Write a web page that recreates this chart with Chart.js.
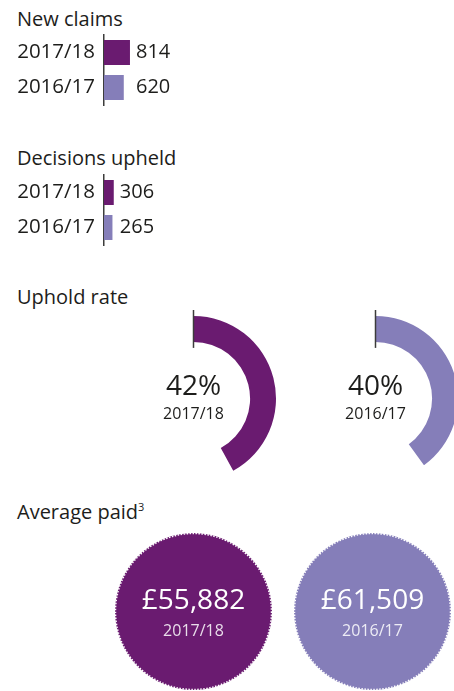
<!DOCTYPE html>
<html>
<head>
<meta charset="utf-8">
<script src="https://cdn.jsdelivr.net/npm/chart.js@4.4.1/dist/chart.umd.min.js"></script>
<style>
    html, body { margin: 0; padding: 0; background: #fff; }
    body { width: 454px; height: 691px; position: relative; overflow: hidden; font-family: 'Open Sans', sans-serif; color: #1d1d1b; }
    .section-title { position: absolute; left: 17px; font-size: 20px; line-height: 20px; white-space: nowrap; }
    .section-title sup { font-size: 11px; vertical-align: 8px; line-height: 0; }
    canvas { position: absolute; }
</style>
</head>
<body>
<div class="section-title" style="top:9px">New claims</div>
<div class="section-title" style="top:148px">Decisions upheld</div>
<div class="section-title" style="top:287px">Uphold rate</div>
<div class="section-title" style="top:502px">Average paid<sup>3</sup></div>

<canvas id="newClaimsChart" width="454" height="110" style="left:0;top:0"></canvas>
<canvas id="upheldChart" width="454" height="110" style="left:0;top:140px"></canvas>
<canvas id="rateChart1" width="185" height="185" style="left:101px;top:306px"></canvas>
<canvas id="rateChart2" width="185" height="185" style="left:283px;top:306px"></canvas>
<canvas id="paidChart1" width="173" height="173" style="left:107px;top:525px"></canvas>
<canvas id="paidChart2" width="173" height="173" style="left:286px;top:525px"></canvas>

<script>
// Dados do gráfico
const years = ['2017/18', '2016/17'];
const newClaims = [814, 620];
const decisionsUpheld = [306, 265];
const upholdRate = [42, 40];
const averagePaid = [55882, 61509];

const colors = ['#6a1b70', '#857eb9'];
const textColor = '#1d1d1b';
const scaleMax = 10000;

Chart.defaults.font.family = "'Open Sans', sans-serif";

// Rótulos de valor ao lado das barras
const valueLabelPlugin = {
    id: 'valueLabels',
    afterDatasetsDraw(chart) {
        const ctx = chart.ctx;
        const meta = chart.getDatasetMeta(0);
        const values = chart.data.datasets[0].data;
        const xPos = chart.scales.x.getPixelForValue(Math.max(...values)) + 6;
        ctx.save();
        ctx.font = "20px 'Open Sans'";
        ctx.fillStyle = textColor;
        ctx.textBaseline = 'middle';
        meta.data.forEach((bar, i) => ctx.fillText(values[i], xPos, bar.y));
        ctx.restore();
    }
};

// Texto central e marcador do anel
const rateCenterPlugin = {
    id: 'rateCenter',
    afterDatasetsDraw(chart) {
        const ctx = chart.ctx;
        const arc = chart.getDatasetMeta(0).data[0];
        const index = chart.options.plugins.rateCenter.index;
        ctx.save();
        ctx.strokeStyle = '#3c3c3b';
        ctx.lineWidth = 1.5;
        ctx.beginPath();
        ctx.moveTo(arc.x, arc.y - arc.outerRadius - 6);
        ctx.lineTo(arc.x, arc.y - arc.innerRadius + 6);
        ctx.stroke();

        ctx.fillStyle = textColor;
        ctx.textAlign = 'center';
        ctx.textBaseline = 'middle';
        ctx.font = "28px 'Open Sans'";
        ctx.fillText(upholdRate[index] + '%', arc.x, arc.y - 11);
        ctx.font = "16px 'Open Sans'";
        ctx.fillText(years[index], arc.x, arc.y + 16);
        ctx.restore();
    }
};

// Borda serrilhada e texto dos círculos
const paidCenterPlugin = {
    id: 'paidCenter',
    afterDatasetsDraw(chart) {
        const ctx = chart.ctx;
        const arc = chart.getDatasetMeta(0).data[0];
        const index = chart.options.plugins.paidCenter.index;
        ctx.save();
        ctx.strokeStyle = '#ffffff';
        ctx.lineWidth = 1.5;
        ctx.setLineDash([1.5, 1.5]);
        ctx.beginPath();
        ctx.arc(arc.x, arc.y, arc.outerRadius - 0.5, 0, Math.PI * 2);
        ctx.stroke();
        ctx.setLineDash([]);

        ctx.fillStyle = '#ffffff';
        ctx.textAlign = 'center';
        ctx.textBaseline = 'middle';
        ctx.font = "28px 'Open Sans'";
        ctx.fillText('£' + averagePaid[index].toLocaleString('en-GB'), arc.x, arc.y - 10);
        ctx.fillStyle = 'rgba(255,255,255,0.85)';
        ctx.font = "16px 'Open Sans'";
        ctx.fillText(years[index], arc.x, arc.y + 20);
        ctx.restore();
    }
};

function createBarChart(canvasId, values) {
    return new Chart(document.getElementById(canvasId), {
        type: 'bar',
        data: {
            labels: years,
            datasets: [{
                data: values,
                backgroundColor: colors,
                barPercentage: 1,
                categoryPercentage: 25 / 35
            }]
        },
        options: {
            indexAxis: 'y',
            responsive: false,
            animation: false,
            layout: { padding: { top: 35, bottom: 5, left: 0, right: 31 } },
            plugins: { legend: { display: false }, tooltip: { enabled: false } },
            scales: {
                x: { display: false, min: 0, max: scaleMax },
                y: {
                    grid: { display: false, drawTicks: false },
                    border: { display: true, color: '#3c3c3b', width: 1.5 },
                    ticks: { color: textColor, font: { size: 20.5 }, padding: 9 },
                    afterFit: function(scale) {
                        scale.width = 104;
                        scale.paddingTop = 0;
                        scale.paddingBottom = 0;
                    }
                }
            }
        },
        plugins: [valueLabelPlugin]
    });
}

function createRateChart(canvasId, index) {
    return new Chart(document.getElementById(canvasId), {
        type: 'doughnut',
        data: {
            labels: [years[index], ''],
            datasets: [{
                data: [upholdRate[index], 100 - upholdRate[index]],
                backgroundColor: [colors[index], 'rgba(0,0,0,0)'],
                borderWidth: 0
            }]
        },
        options: {
            responsive: false,
            animation: false,
            cutout: '68.6%',
            layout: { padding: 10 },
            plugins: {
                legend: { display: false },
                tooltip: { enabled: false },
                rateCenter: { index: index }
            }
        },
        plugins: [rateCenterPlugin]
    });
}

function createPaidChart(canvasId, index) {
    return new Chart(document.getElementById(canvasId), {
        type: 'pie',
        data: {
            labels: [years[index]],
            datasets: [{
                data: [averagePaid[index]],
                backgroundColor: [colors[index]],
                borderWidth: 0
            }]
        },
        options: {
            responsive: false,
            animation: false,
            layout: { padding: 8 },
            plugins: {
                legend: { display: false },
                tooltip: { enabled: false },
                paidCenter: { index: index }
            }
        },
        plugins: [paidCenterPlugin]
    });
}

createBarChart('newClaimsChart', newClaims);
createBarChart('upheldChart', decisionsUpheld);
createRateChart('rateChart1', 0);
createRateChart('rateChart2', 1);
createPaidChart('paidChart1', 0);
createPaidChart('paidChart2', 1);
</script>
</body>
</html>
